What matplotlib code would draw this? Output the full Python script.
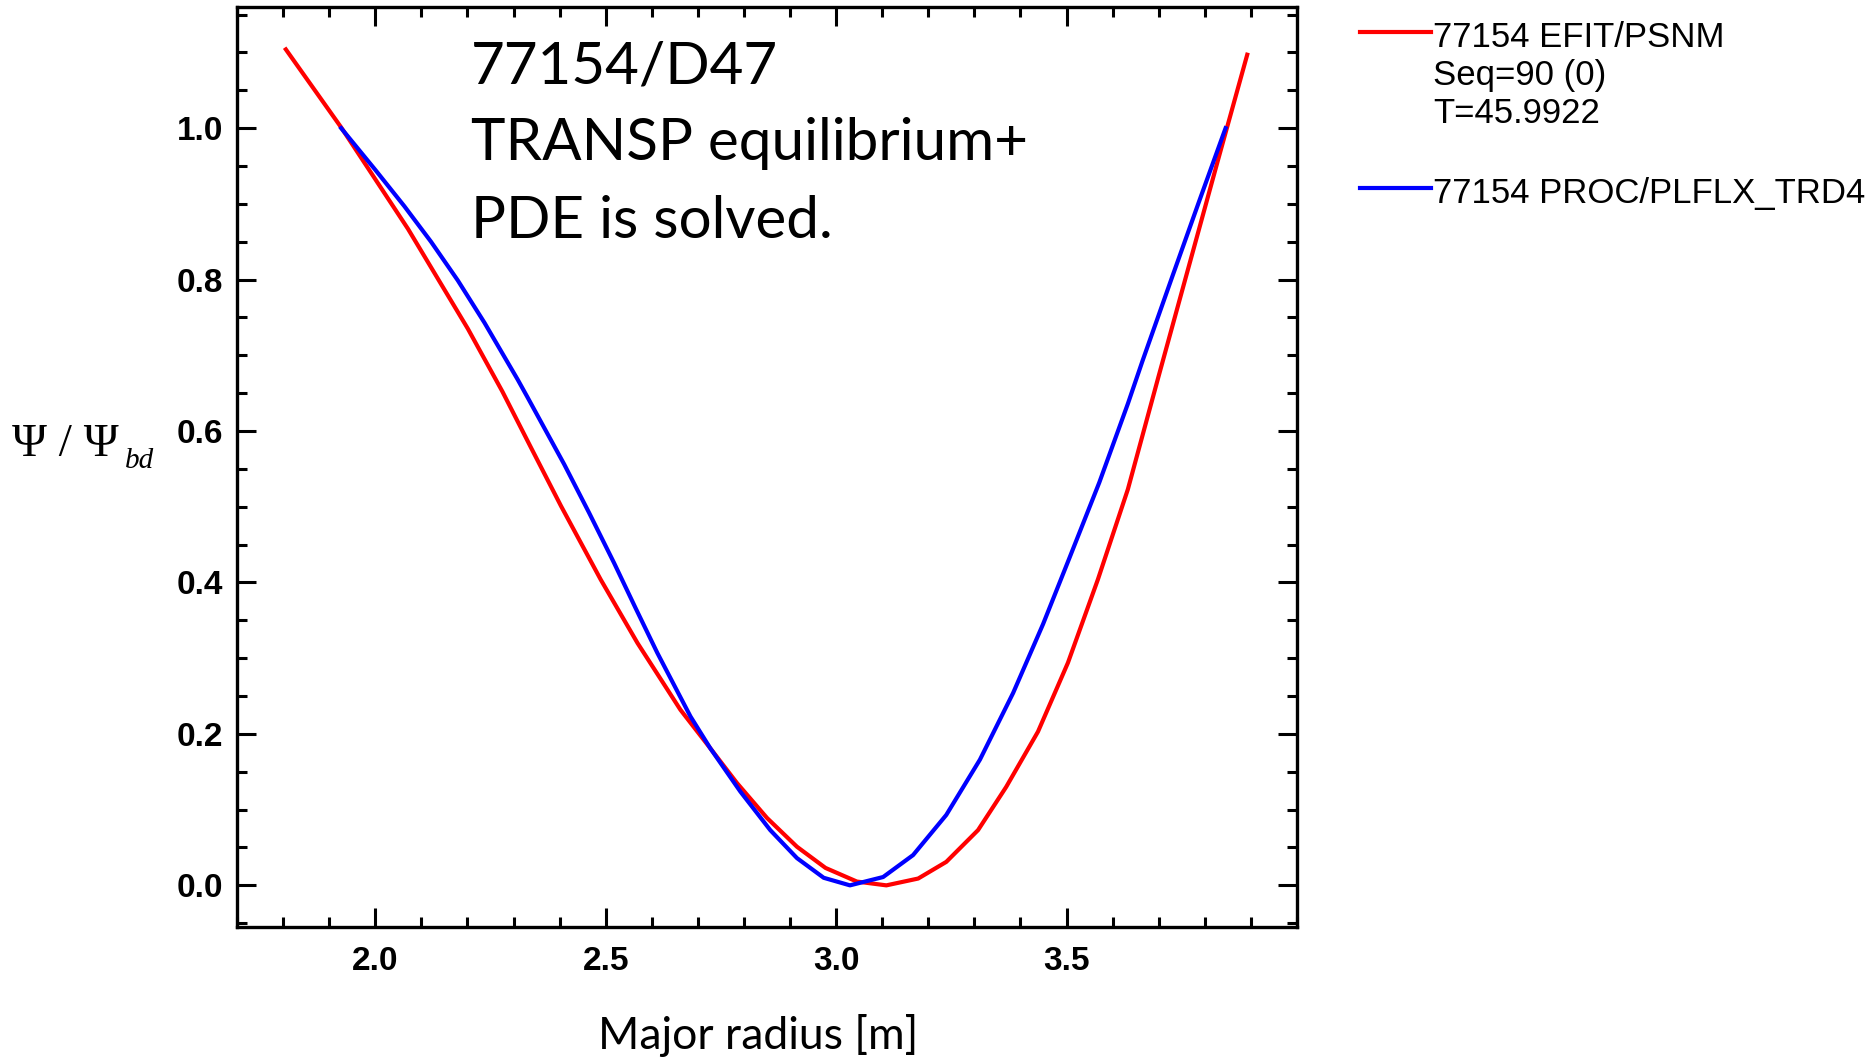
import numpy as np
import matplotlib
matplotlib.use("Agg")
import matplotlib.pyplot as plt
from matplotlib.lines import Line2D
from matplotlib.ticker import MultipleLocator, FormatStrFormatter

# EFIT/PSNM flux profile (red)
r_efit = [1.806, 1.926, 2.071, 2.201, 2.276, 2.338, 2.403, 2.489, 2.569, 2.662,
          2.727, 2.785, 2.850, 2.915, 2.977, 3.045, 3.109, 3.178, 3.239, 3.308,
          3.369, 3.438, 3.503, 3.568, 3.633, 3.700, 3.770, 3.830, 3.892]
psi_efit = [1.104, 1.001, 0.867, 0.735, 0.652, 0.578, 0.501, 0.404, 0.320, 0.232,
            0.181, 0.135, 0.089, 0.051, 0.023, 0.005, 0.000, 0.009, 0.031, 0.073,
            0.130, 0.203, 0.294, 0.404, 0.523, 0.673, 0.828, 0.961, 1.097]

# PROC/PLFLX_TRD4 flux profile (blue)
r_proc = [1.926, 2.000, 2.063, 2.121, 2.179, 2.237, 2.309, 2.330, 2.410, 2.464,
          2.518, 2.565, 2.612, 2.684, 2.727, 2.792, 2.857, 2.915, 2.973, 3.030,
          3.102, 3.167, 3.239, 3.312, 3.384, 3.449, 3.506, 3.571, 3.633, 3.665,
          3.730, 3.788, 3.845]
psi_proc = [1.000, 0.945, 0.897, 0.850, 0.799, 0.743, 0.668, 0.645, 0.556, 0.492,
            0.426, 0.366, 0.307, 0.223, 0.181, 0.124, 0.073, 0.036, 0.010, 0.000,
            0.011, 0.040, 0.093, 0.166, 0.254, 0.345, 0.432, 0.532, 0.636, 0.693,
            0.805, 0.904, 1.000]

labels = ["77154 EFIT/PSNM\nSeq=90 (0)\nT=45.9922", "77154 PROC/PLFLX_TRD4"]
note_lines = ["77154/D47", "TRANSP equilibrium+", "PDE is solved."]

W, H = 1872, 1059
fig = plt.figure(figsize=(W / 100, H / 100), dpi=100)
ax = fig.add_axes([237 / W, 1 - 927 / H, (1297 - 237) / W, (927 - 7) / H])

ax.plot(r_efit, psi_efit, color="#ff0000", lw=3.0)
ax.plot(r_proc, psi_proc, color="#0000ff", lw=3.0)

ax.set_xlim(1.70, 4.0)
ax.set_ylim(-0.055, 1.16)
ax.xaxis.set_major_locator(MultipleLocator(0.5))
ax.xaxis.set_minor_locator(MultipleLocator(0.1))
ax.yaxis.set_major_locator(MultipleLocator(0.2))
ax.yaxis.set_minor_locator(MultipleLocator(0.05))
ax.xaxis.set_major_formatter(FormatStrFormatter("%.1f"))
ax.yaxis.set_major_formatter(FormatStrFormatter("%.1f"))
ax.set_xticks([2.0, 2.5, 3.0, 3.5])

ax.tick_params(which="both", direction="in", top=True, right=True, width=2.2)
ax.tick_params(which="major", length=14)
ax.tick_params(which="minor", length=7)
ax.tick_params(axis="x", which="major", pad=14)
ax.tick_params(axis="y", which="major", pad=10)
for lab in ax.get_xticklabels() + ax.get_yticklabels():
    lab.set_fontfamily("Liberation Sans")
    lab.set_fontweight("bold")
    lab.set_fontsize(24)
for sp in ax.spines.values():
    sp.set_linewidth(2.4)

# annotation inside the axes (baselines in pixels from top)
base_px = [83, 160, 238]
for txt, yy in zip(note_lines, base_px):
    fig.text(471 / W, 1 - yy / H, txt, family="Lato", fontsize=42,
             va="baseline", ha="left")

# axis labels
fig.text(758 / W, 1 - 1049 / H, "Major radius [m]", family="Lato", fontsize=32,
         ha="center", va="baseline")
fig.text(12 / W, 1 - 456 / H, "Ψ / Ψ", family="Liberation Serif", fontsize=34,
         ha="left", va="baseline")
fig.text(125 / W, 1 - 468 / H, "bd", family="Liberation Serif", style="italic",
         fontsize=21, ha="left", va="baseline")

# legend drawn outside the axes
leg_lines = [(31.7, "#ff0000"), (188.3, "#0000ff")]
leg_text_top = [46.7, 203.3]
for (ly, col), lab, tb in zip(leg_lines, labels, leg_text_top):
    fig.add_artist(Line2D([1360 / W, 1431 / W], [1 - ly / H, 1 - ly / H],
                          color=col, lw=3.0, transform=fig.transFigure))
    for i, part in enumerate(lab.split("\n")):
        fig.text(1433 / W, 1 - (tb + i * 38.3) / H, part, family="Liberation Sans",
                 fontsize=25, ha="left", va="baseline")

fig.savefig("out.png", dpi=100)
